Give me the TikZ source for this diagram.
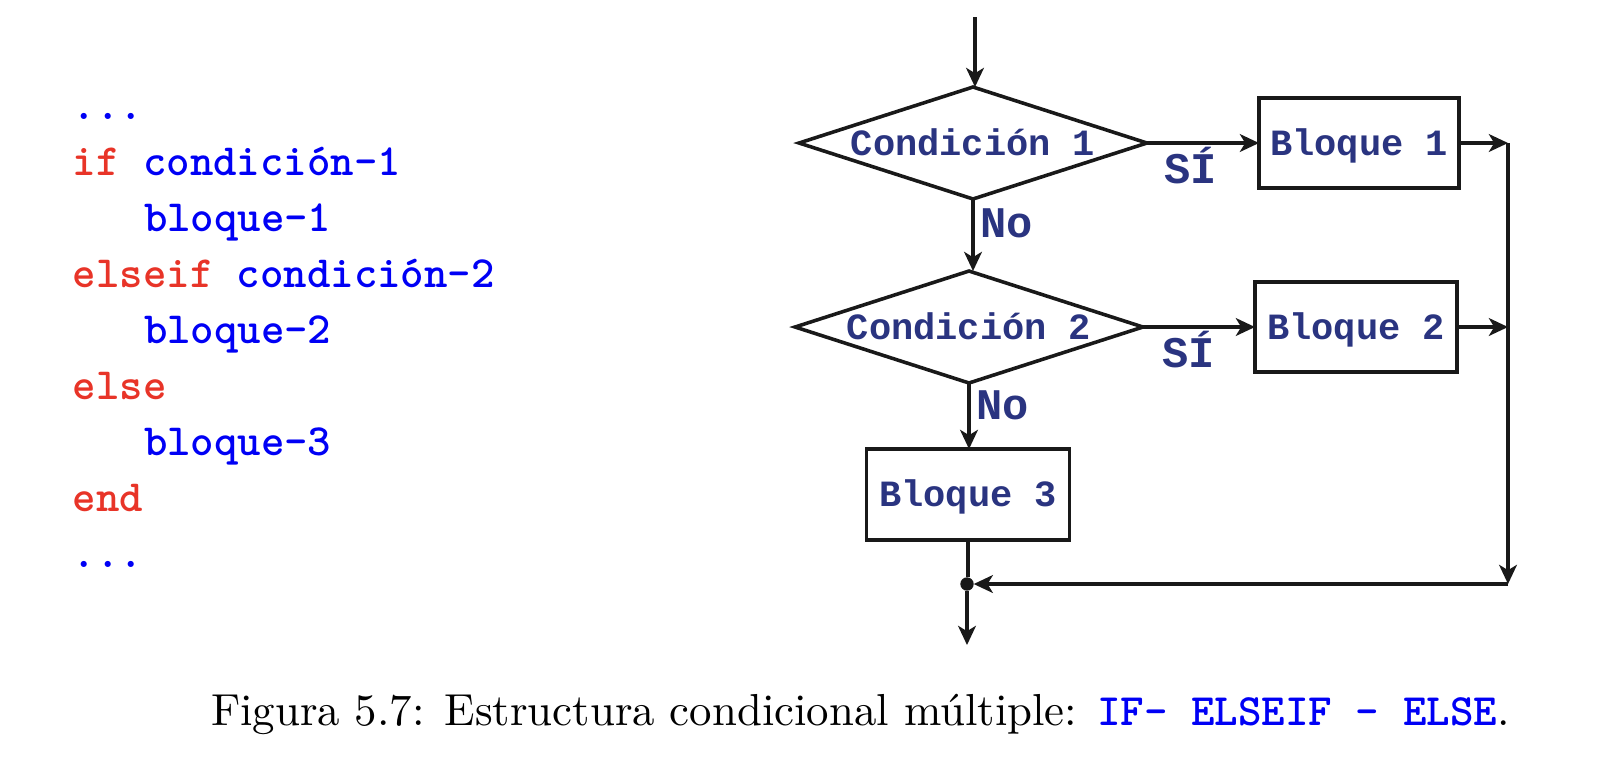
\documentclass[tikz,border=0pt]{standalone}
\usepackage{fontspec}
\newfontfamily\courfont{Liberation Mono}
\usetikzlibrary{shapes.geometric,arrows.meta}
\definecolor{kwred}{RGB}{232,52,40}
\definecolor{cblue}{RGB}{0,0,245}
\definecolor{navy}{RGB}{42,52,128}
\definecolor{lin}{RGB}{25,25,25}
\newcommand\zbox[1]{\makebox[0pt]{\raisebox{-2.7pt}[0pt][0pt]{#1}}}
\begin{document}
\begin{tikzpicture}[x=0.2242pt,y=-0.2242pt,
  every node/.style={inner sep=0pt, outer sep=0pt},
  code/.style={anchor=base west, font=\ttfamily\bfseries\fontsize{10}{12}\selectfont},
  dia/.style={shape=diamond, draw=lin, line width=0.8pt, minimum width=78.0pt, minimum height=25.1pt, font=\courfont\bfseries\fontsize{8.3}{10}\selectfont, text=navy},
  blk/.style={rectangle, draw=lin, line width=0.8pt, font=\courfont\bfseries\fontsize{8.3}{10}\selectfont, text=navy},
  lab/.style={anchor=base west, font=\courfont\bfseries\fontsize{9.8}{11}\selectfont, text=navy},
  conn/.style={draw=lin, line width=0.7pt},
  arr/.style={conn, -{Stealth[length=4.3pt,width=4pt,inset=1.2pt]}}
]
\useasboundingbox (0,0) rectangle (1602,776);
% code listing
\node[code,text=cblue] (c1) at (73,119) {...};
\node[code] (c2) at (73,175) {\textcolor{kwred}{if} \textcolor{cblue}{condición-1}};
\node[code,text=cblue] (c3) at (144,231) {bloque-1};
\node[code] (c4) at (73,287) {\textcolor{kwred}{elseif} \textcolor{cblue}{condición-2}};
\node[code,text=cblue] (c5) at (144,343) {bloque-2};
\node[code,text=kwred] (c6) at (73,399) {else};
\node[code,text=cblue] (c7) at (144,455) {bloque-3};
\node[code,text=kwred] (c8) at (73,511) {end};
\node[code,text=cblue] (c9) at (73,567) {...};
% flowchart
\node[dia] (d1) at (973,143) {\zbox{Condición 1}};
\node[dia] (d2) at (969,327) {\zbox{Condición 2}};
\node[blk, minimum width=44.84pt, minimum height=20.18pt] (b1) at (1359,143) {\zbox{Bloque 1}};
\node[blk, minimum width=45.3pt, minimum height=20.18pt] (b2) at (1356,327) {\zbox{Bloque 2}};
\node[blk, minimum width=45.5pt, minimum height=20.4pt] (b3) at (968,494.5) {\zbox{Bloque 3}};
\node[circle, fill=lin, minimum size=3pt] (dot) at (967,584) {};
\coordinate (start) at (975,17);
\coordinate (j1) at (1508,143);
\coordinate (j2) at (1508,327);
\coordinate (corner) at (1508,584);
\coordinate (end) at (967,645);
\draw[arr] (start) -- (start |- d1.north);
\draw[arr] (d1.south) -- (d1.south |- d2.north);
\draw[arr] (d2.south) -- (d2.south |- b3.north);
\draw[arr] (d1.east) -- (b1.west);
\draw[arr] (d2.east) -- (b2.west);
\draw[arr] (b1.east) -- (j1);
\draw[arr] (b2.east) -- (j2);
\draw[arr] (j1) -- (corner);
\draw[arr] (corner) -- (dot);
\draw[conn] (b3.south) -- (b3.south |- dot.north);
\draw[arr] (dot) -- (end);
\node[lab] (s1) at (1164,183) {SÍ};
\node[lab] (s2) at (1162,367) {SÍ};
\node[lab] (n1) at (980,237) {No};
\node[lab] (n2) at (976,419) {No};
% caption
\node[anchor=base west, font=\fontsize{10.05}{12}\selectfont] (cap) at (211,725) {Figura 5.7: Estructura condicional múltiple: \textcolor{cblue}{\ttfamily\bfseries IF- ELSEIF - ELSE}.};
\end{tikzpicture}
\end{document}
